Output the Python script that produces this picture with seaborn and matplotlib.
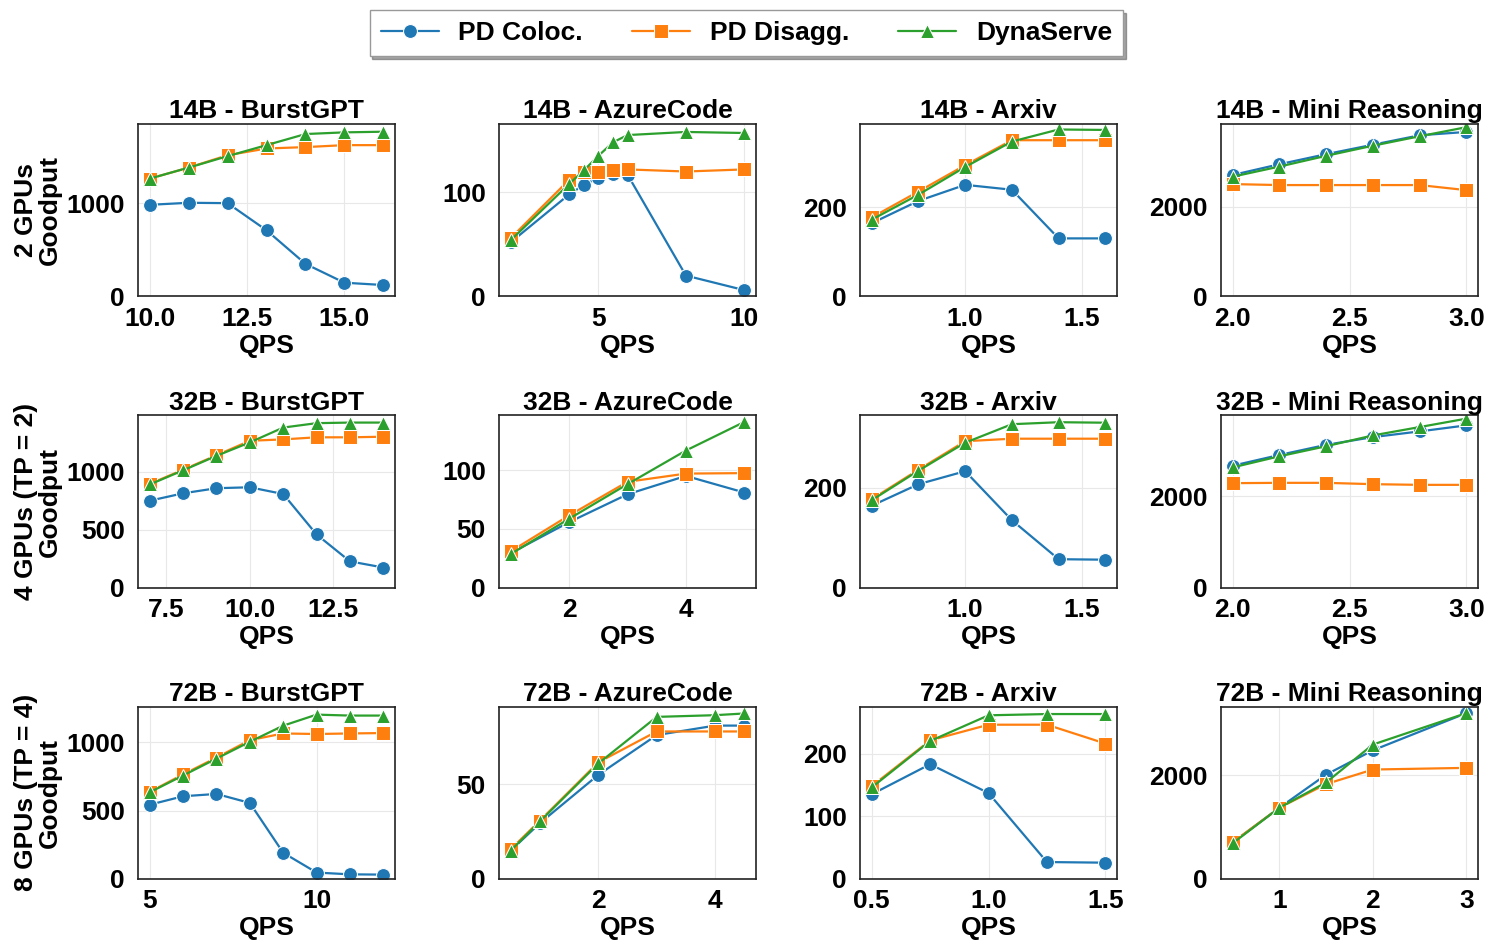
import matplotlib
matplotlib.use("Agg")
import matplotlib.pyplot as plt
from matplotlib.ticker import MaxNLocator
import seaborn as sns
import pandas as pd

# --- data (goodput vs QPS) ---
methods = ["PD Coloc.", "PD Disagg.", "DynaServe"]

# 14B
qps_14b_burst = [10, 11, 12, 13, 14, 15, 16]
coloc_14b_burst = [982, 1004, 1000, 709, 349, 147, 122]
disagg_14b_burst = [1263, 1381, 1514, 1586, 1601, 1622, 1622]
dyna_14b_burst = [1263, 1381, 1504, 1622, 1741, 1759, 1766]

qps_14b_azure = [2, 4, 4.5, 5, 5.5, 6, 8, 10]
coloc_14b_azure = [52, 98, 107, 114, 118, 117, 20, 6]
disagg_14b_azure = [56, 112, 120, 120, 121, 122, 120, 122]
dyna_14b_azure = [54, 108, 121, 135, 148, 155, 158, 157]

qps_14b_arxiv = [0.6, 0.8, 1.0, 1.2, 1.4, 1.6]
coloc_14b_arxiv = [164, 214, 250, 239, 130, 130]
disagg_14b_arxiv = [177, 235, 294, 350, 350, 350]
dyna_14b_arxiv = [172, 228, 290, 347, 374, 373]

qps_14b_mini = [2.0, 2.2, 2.4, 2.6, 2.8, 3.0]
coloc_14b_mini = [2715, 2955, 3180, 3391, 3602, 3677]
disagg_14b_mini = [2511, 2489, 2489, 2489, 2489, 2376]
dyna_14b_mini = [2677, 2903, 3143, 3369, 3580, 3783]

# 32B
qps_32b_burst = [7, 8, 9, 10, 11, 12, 13, 14]
coloc_32b_burst = [750, 814, 858, 866, 808, 459, 227, 174]
disagg_32b_burst = [895, 1017, 1142, 1267, 1279, 1297, 1297, 1302]
dyna_32b_burst = [890, 1012, 1137, 1253, 1381, 1419, 1424, 1424]

qps_32b_azure = [1, 2, 3, 4, 5]
coloc_32b_azure = [29.4, 55.7, 79.4, 95, 80.9]
disagg_32b_azure = [30.9, 61.4, 90, 97, 97.4]
dyna_32b_azure = [28.6, 58.6, 88, 116.6, 140.9]

qps_32b_arxiv = [0.6, 0.8, 1.0, 1.2, 1.4, 1.6]
coloc_32b_arxiv = [164, 207, 233, 135, 57, 56]
disagg_32b_arxiv = [177, 236, 293, 298, 298, 298]
dyna_32b_arxiv = [175, 234, 290, 327, 331, 330]

qps_32b_mini = [2.0, 2.2, 2.4, 2.6, 2.8, 3.0]
coloc_32b_mini = [2668, 2903, 3124, 3293, 3418, 3550]
disagg_32b_mini = [2286, 2293, 2293, 2264, 2249, 2249]
dyna_32b_mini = [2631, 2874, 3094, 3330, 3513, 3697]

# 72B
qps_72b_burst = [5, 6, 7, 8, 9, 10, 11, 12]
coloc_72b_burst = [544, 606, 623, 557, 192, 47, 34, 32]
disagg_72b_burst = [638, 766, 889, 1017, 1066, 1062, 1066, 1069]
dyna_72b_burst = [635, 758, 882, 1005, 1123, 1204, 1197, 1197]

qps_72b_azure = [0.5, 1, 2, 3, 4, 4.5]
coloc_72b_azure = [15, 29.5, 55, 76, 81, 81]
disagg_72b_azure = [15.7, 30.8, 61.6, 77.9, 77.9, 77.9]
dyna_72b_azure = [15, 30.4, 61, 85.6, 86.5, 87.4]

qps_72b_arxiv = [0.5, 0.75, 1.0, 1.25, 1.5]
coloc_72b_arxiv = [135, 183, 137, 27, 26]
disagg_72b_arxiv = [148, 221, 246, 246, 216]
dyna_72b_arxiv = [146, 220, 261, 263, 263]

qps_72b_mini = [0.5, 1, 1.5, 2, 3]
coloc_72b_mini = [704, 1375, 2013, 2482, 3199]
disagg_72b_mini = [710, 1375, 1831, 2111, 2143]
dyna_72b_mini = [690, 1375, 1863, 2593, 3199]

row_labels = ["2 GPUs\nGoodput", "4 GPUs (TP = 2)\nGoodput", "8 GPUs (TP = 4)\nGoodput"]

panels = [
    ("14B - BurstGPT", qps_14b_burst, coloc_14b_burst, disagg_14b_burst, dyna_14b_burst),
    ("14B - AzureCode", qps_14b_azure, coloc_14b_azure, disagg_14b_azure, dyna_14b_azure),
    ("14B - Arxiv", qps_14b_arxiv, coloc_14b_arxiv, disagg_14b_arxiv, dyna_14b_arxiv),
    ("14B - Mini Reasoning", qps_14b_mini, coloc_14b_mini, disagg_14b_mini, dyna_14b_mini),
    ("32B - BurstGPT", qps_32b_burst, coloc_32b_burst, disagg_32b_burst, dyna_32b_burst),
    ("32B - AzureCode", qps_32b_azure, coloc_32b_azure, disagg_32b_azure, dyna_32b_azure),
    ("32B - Arxiv", qps_32b_arxiv, coloc_32b_arxiv, disagg_32b_arxiv, dyna_32b_arxiv),
    ("32B - Mini Reasoning", qps_32b_mini, coloc_32b_mini, disagg_32b_mini, dyna_32b_mini),
    ("72B - BurstGPT", qps_72b_burst, coloc_72b_burst, disagg_72b_burst, dyna_72b_burst),
    ("72B - AzureCode", qps_72b_azure, coloc_72b_azure, disagg_72b_azure, dyna_72b_azure),
    ("72B - Arxiv", qps_72b_arxiv, coloc_72b_arxiv, disagg_72b_arxiv, dyna_72b_arxiv),
    ("72B - Mini Reasoning", qps_72b_mini, coloc_72b_mini, disagg_72b_mini, dyna_72b_mini),
]

colors = ["#1f77b4", "#ff7f0e", "#2ca02c"]
markers = ["o", "s", "^"]

# --- style ---
sns.set_theme(style="whitegrid")
plt.rcParams["font.family"] = ["Liberation Sans", "DejaVu Sans"]
plt.rcParams["font.weight"] = "bold"
plt.rcParams["axes.titleweight"] = "bold"
plt.rcParams["axes.labelweight"] = "bold"
plt.rcParams["text.color"] = "black"
plt.rcParams["axes.labelcolor"] = "black"
plt.rcParams["xtick.color"] = "black"
plt.rcParams["ytick.color"] = "black"
plt.rcParams["axes.edgecolor"] = "#222222"
plt.rcParams["axes.linewidth"] = 1.2
plt.rcParams["grid.color"] = "#e8e8e8"
plt.rcParams["grid.linewidth"] = 0.8

fig, axes = plt.subplots(3, 4, figsize=(14.94, 9.52), dpi=100)
fig.subplots_adjust(left=0.0924, right=0.9893, top=0.8697, bottom=0.0767,
                    wspace=0.405, hspace=0.69)

nice_steps = [1, 2, 2.5, 5, 10]

for i, (title, qps, coloc, disagg, dyna) in enumerate(panels):
    ax = axes[i // 4][i % 4]
    df = pd.DataFrame({"QPS": qps, methods[0]: coloc, methods[1]: disagg, methods[2]: dyna})
    for m, c, mk in zip(methods, colors, markers):
        sns.lineplot(data=df, x="QPS", y=m, ax=ax, color=c, marker=mk,
                     markersize=10, linewidth=1.6, label=m, legend=False)
    ax.set_ylim(bottom=0)
    ax.xaxis.set_major_locator(MaxNLocator(nbins=3, steps=nice_steps))
    ax.yaxis.set_major_locator(MaxNLocator(nbins=3, steps=nice_steps))
    ax.set_title(title, fontsize=19, pad=4)
    ax.set_xlabel("QPS", fontsize=19, labelpad=2)
    if i % 4 == 0:
        ax.set_ylabel(row_labels[i // 4], fontsize=19, linespacing=1.0, labelpad=3)
    else:
        ax.set_ylabel("")
    ax.tick_params(axis="x", labelsize=19, pad=1.5)
    ax.tick_params(axis="y", labelsize=19, pad=3.5)
    for lab in ax.get_xticklabels() + ax.get_yticklabels():
        lab.set_fontweight("bold")

handles, labels = axes[0][0].get_legend_handles_labels()
fig.legend(handles, labels, loc="upper center", bbox_to_anchor=(0.4995, 0.9895), ncol=3,
           fontsize=19, frameon=True, shadow=True, fancybox=False, edgecolor="#999999",
           handlelength=2.2, handletextpad=0.75, columnspacing=1.85, borderpad=0.42,
           borderaxespad=0.0)

plt.savefig("out.png", dpi=100)
